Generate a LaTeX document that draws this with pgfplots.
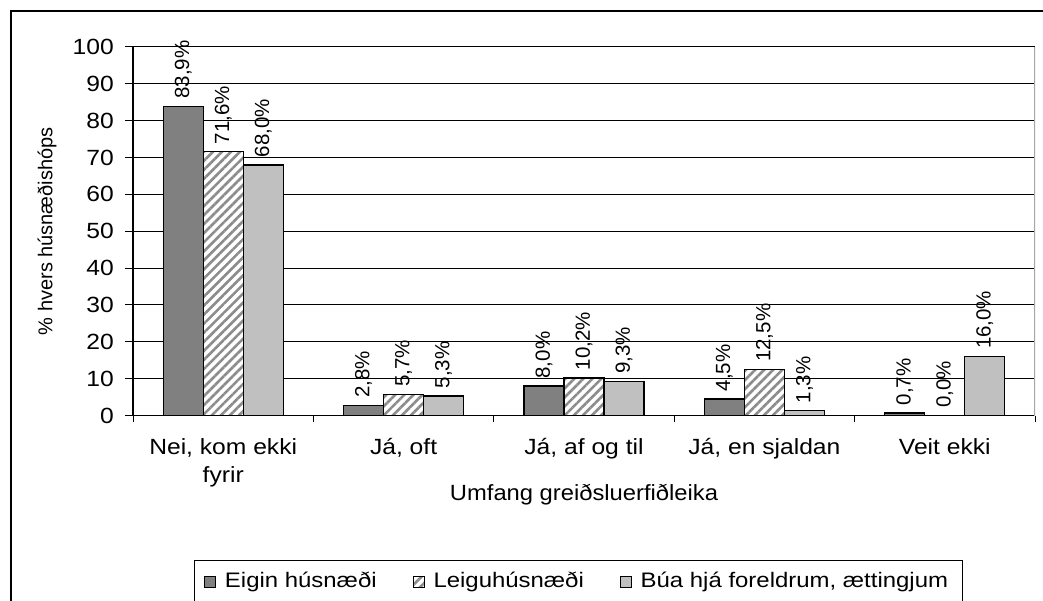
\documentclass[border=0pt]{standalone}
\usepackage{fontspec}
\setmainfont{Liberation Sans}
\usepackage{graphicx}
\usepackage{pgfplots}
\pgfplotsset{compat=1.18}
\usetikzlibrary{patterns.meta}
\definecolor{dk}{RGB}{128,128,128}
\definecolor{lt}{RGB}{192,192,192}
\definecolor{hatchc}{RGB}{140,140,140}
\newcommand{\sx}[1]{\scalebox{1.14}[1]{#1}}
\begin{document}
\begin{tikzpicture}[x=1pt,y=1pt]
\useasboundingbox (0,0) rectangle (521.5,300);
\draw[line width=1pt] (5.5,-5) -- (5.5,294.5) -- (530,294.5);
\begin{axis}[
  at={(66.5pt,92.25pt)}, anchor=south west,
  scale only axis, width=451pt, height=184.25pt,
  ybar=0pt, bar width=20pt,
  xmin=-0.5, xmax=4.5, ymin=0, ymax=100,
  xtick={0,...,4},
  xticklabels={{Nei, kom ekki\\fyrir},{Já, oft},{Já, af og til},{Já, en sjaldan},{Veit ekki}},
  minor xtick={-0.5,0.5,...,4.5},
  ytick={0,10,...,100},
  axis lines*=left,
  tick align=outside,
  major tick length=4pt, minor tick length=3pt,
  major x tick style={draw=none},
  tick style={black, line width=0.5pt},
  axis line style={black, line width=0.6pt},
  ymajorgrids, grid style={black, line width=0.5pt},
  /pgf/number format/assume math mode=true,
  ticklabel style={font=\fontsize{11}{14}\selectfont, xscale=1.12},
  yticklabel style={xshift=-1.5pt},
  xticklabel style={align=center, yshift=-4pt},
  xlabel={Umfang greiðsluerfiðleika},
  xlabel style={font=\fontsize{11}{13}\selectfont, xscale=1.08, at={(axis description cs:0.5,-0.2157)}, anchor=center},
  ylabel={\% hvers húsnæðishóps},
  ylabel style={font=\fontsize{10}{12}\selectfont, at={(axis description cs:-0.0953,0.5)}, anchor=center},
  point meta=y,
  nodes near coords={\pgfmathprintnumber[fixed,fixed zerofill,precision=1,use comma,assume math mode=true]{\pgfplotspointmeta}\%},
  every node near coord/.append style={rotate=90, anchor=west, font=\fontsize{10.25}{12}\selectfont, inner sep=3.5pt, black},
  legend columns=3,
  legend style={at={(0.4935,-0.392)}, anchor=north, draw=black, line width=0.5pt, font=\fontsize{10.5}{12.5}\selectfont, inner ysep=4pt, inner xsep=5pt,
    /tikz/every odd column/.append style={column sep=2.5pt},
    /tikz/every even column/.append style={column sep=16pt}},
  legend image code/.code={\draw[#1, line width=0.5pt] (0pt,-2.7pt) rectangle (5.4pt,2.7pt);},
]
\addplot[draw=black, line width=0.6pt, fill=dk] coordinates {(0,83.9) (1,2.8) (2,8.0) (3,4.5) (4,0.7)};
\addlegendentry{\sx{Eigin húsnæði}}
\addplot[draw=black, line width=0.6pt, fill=white, postaction={pattern={Lines[angle=45,distance=3.2pt,line width=1.3pt]}, pattern color=hatchc}] coordinates {(0,71.6) (1,5.7) (2,10.2) (3,12.5) (4,0.0)};
\addlegendentry{\sx{Leiguhúsnæði}}
\addplot[draw=black, line width=0.6pt, fill=lt] coordinates {(0,68.0) (1,5.3) (2,9.3) (3,1.3) (4,16.0)};
\addlegendentry{\sx{Búa hjá foreldrum, ættingjum}}
\draw[gray!70, line width=0.6pt] (axis cs:4.5,0) -- (axis cs:4.5,100);
\end{axis}
\end{tikzpicture}
\end{document}
